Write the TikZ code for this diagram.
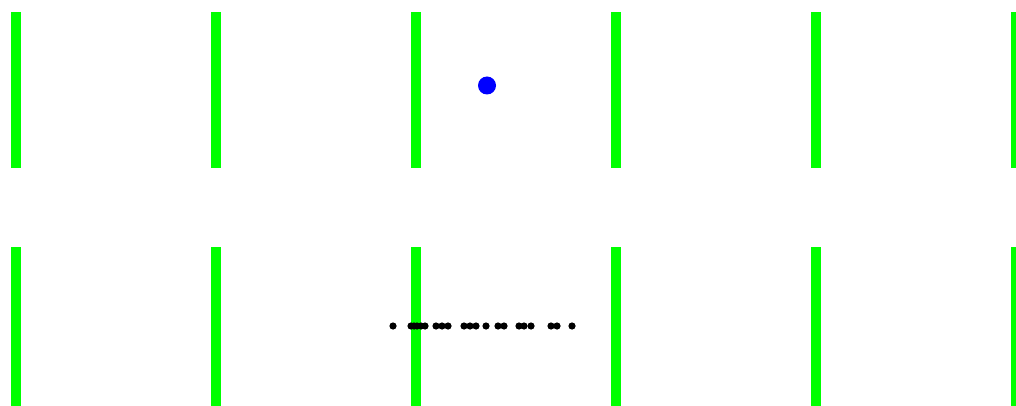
\documentclass[tikz,border=0pt]{standalone}
\begin{document}
\begin{tikzpicture}[x=1pt,y=-1pt,
  bar/.style={fill={rgb,255:red,0;green,255;blue,0}},
  particle/.style={fill=black},
  probe/.style={fill={rgb,255:red,0;green,0;blue,255}}]
\useasboundingbox (0,0) rectangle (1016,406);
\clip (0,0) rectangle (1016,406);
\fill[white] (0,0) rectangle (1016,406);
\foreach \x in {16,216,416,616,816,1016}{
  \fill[bar] (\x-5,12) rectangle (\x+5,168);
  \fill[bar] (\x-5,247) rectangle (\x+5,410);
}
\fill[probe] (487,85.5) circle (9);
\foreach \x in {393,411,414,417,421,425,436,442,448,464,470,476,486,498,504,519,524,531,551,557,572}{
  \fill[particle] (\x,326) circle (3.6);
}
\end{tikzpicture}
\end{document}
